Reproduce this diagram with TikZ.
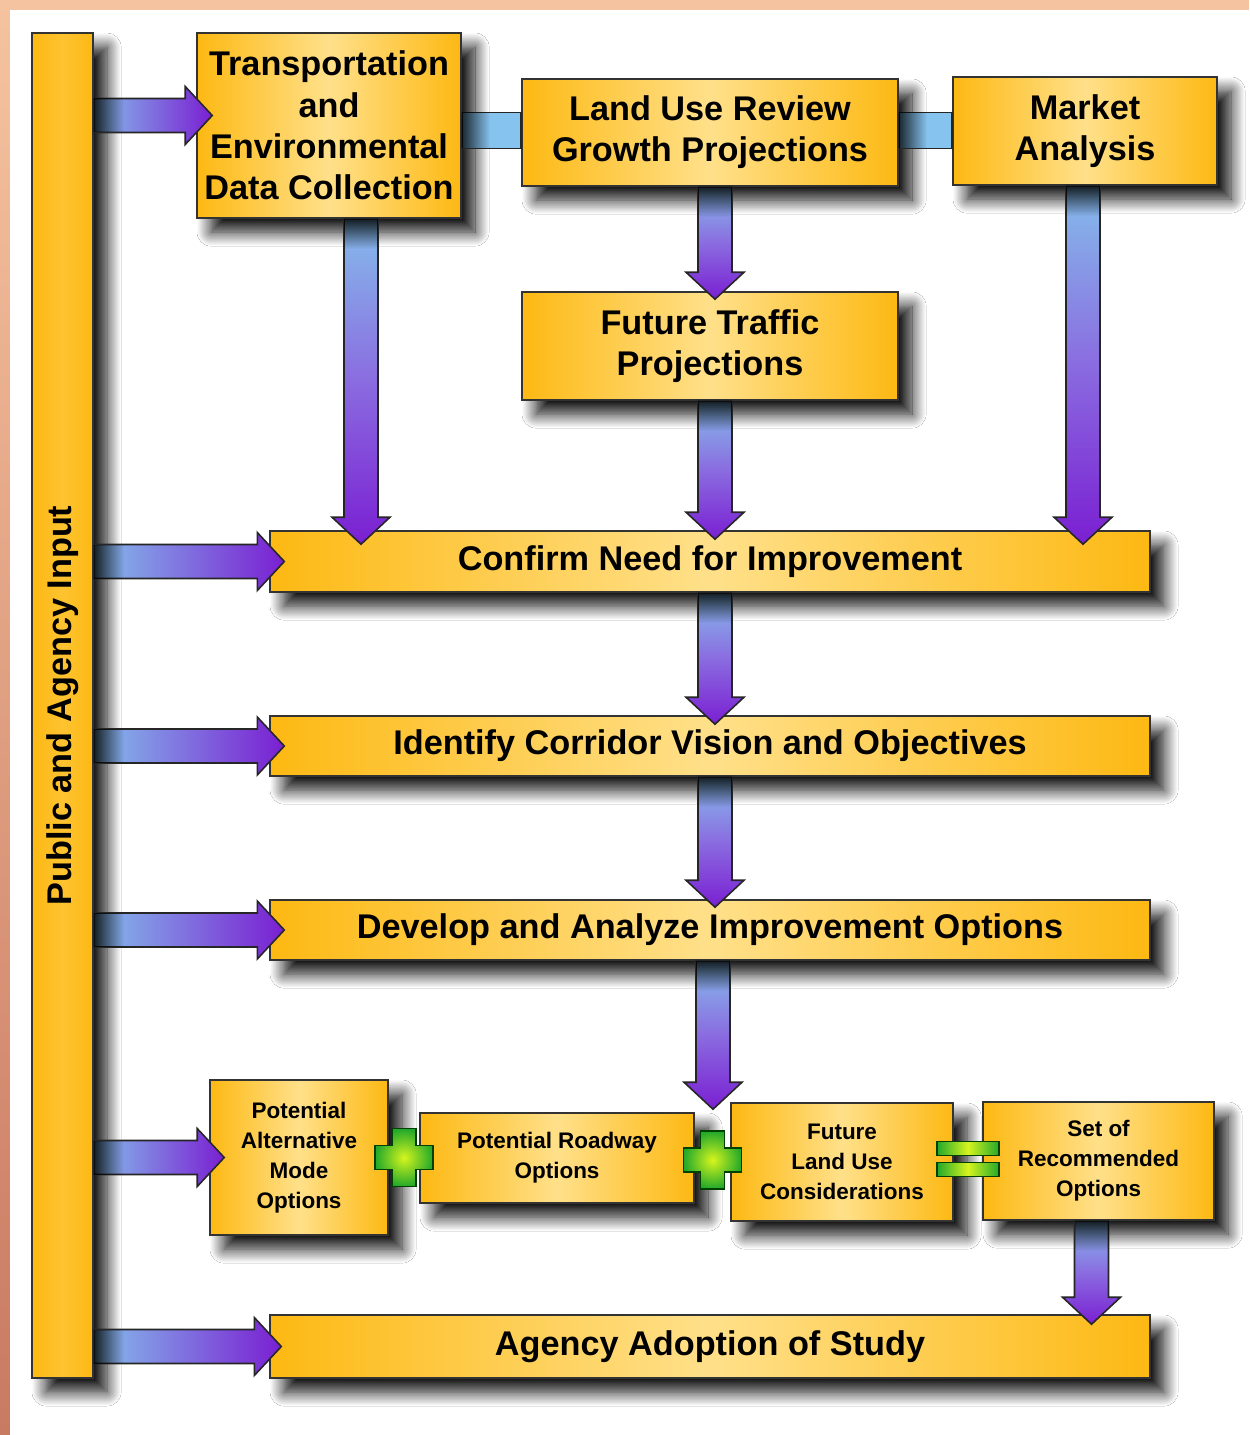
\documentclass[tikz,border=0pt]{standalone}
\usepackage{fontspec}
\setmainfont{Liberation Sans}
\usetikzlibrary{calc,fadings,shadows.blur}

\definecolor{boxorange}{HTML}{FDB913}
\definecolor{boxlight}{HTML}{FFE08A}
\definecolor{arrowblue}{HTML}{85BDEB}
\definecolor{arrowmid}{HTML}{8A6CE0}
\definecolor{arrowpurple}{HTML}{7A1FD2}
\definecolor{connblue}{HTML}{86C3EE}
\definecolor{greenglow}{HTML}{D6F51E}
\definecolor{greenedge}{HTML}{22A82A}
\definecolor{framepeach}{HTML}{F5C3A0}
\definecolor{framered}{HTML}{C97A62}

\tikzfading[name=shadowdown, top color=transparent!0, bottom color=transparent!100]
\tikzfading[name=shadowright, left color=transparent!0, right color=transparent!100]

\tikzset{
  stagebox/.style={draw=black!80, line width=0.9pt, left color=boxorange,
    right color=boxorange, middle color=boxlight, inner sep=0pt, align=center,
    blur shadow={shadow xshift=8pt, shadow yshift=-8pt, shadow blur radius=8pt,
      shadow blur steps=16, shadow opacity=95}},
  bigtext/.style={font=\fontsize{19.5}{23.5}\selectfont\bfseries},
  smalltext/.style={font=\fontsize{12.8}{17}\selectfont\bfseries},
  arrowline/.style={draw=black!85, line width=0.9pt},
  plusfill/.style={inner color=greenglow, outer color=greenedge,
    draw=green!25!black, line width=0.7pt},
  eqfill/.style={left color=greenedge, right color=greenedge, middle color=greenglow,
    draw=green!25!black, line width=0.7pt}
}

% fat arrows: #1 start coordinate, #2 tip coordinate
\newcommand{\fatdown}[2]{%
  \shade[top color=arrowblue, bottom color=arrowpurple, middle color=arrowmid, arrowline]
    ($(#1)+(-17,0)$) -- ($(#2)+(-17,-27)$) -- ($(#2)+(-29,-27)$) -- (#2)
    -- ($(#2)+(29,-27)$) -- ($(#2)+(17,-27)$) -- ($(#1)+(17,0)$) -- cycle;
  \fill[black, path fading=shadowdown, fill opacity=0.85]
    ($(#1)+(-17,0)$) rectangle ($(#1)+(17,30)$);
}
\newcommand{\fatright}[2]{%
  \shade[left color=arrowblue, right color=arrowpurple, arrowline]
    ($(#1)+(0,-17)$) -- ($(#2)+(-27,-17)$) -- ($(#2)+(-27,-29)$) -- (#2)
    -- ($(#2)+(-27,29)$) -- ($(#2)+(-27,17)$) -- ($(#1)+(0,17)$) -- cycle;
  \fill[black, path fading=shadowright, fill opacity=0.85]
    ($(#1)+(0,-17)$) rectangle ($(#1)+(30,17)$);
}
\newcommand{\greenplus}[1]{%
  \begin{scope}[shift={(#1)}]
    \shade[plusfill] (-12,-29) -- (12,-29) -- (12,-12) -- (29,-12) -- (29,12)
      -- (12,12) -- (12,29) -- (-12,29) -- (-12,12) -- (-29,12) -- (-29,-12)
      -- (-12,-12) -- cycle;
  \end{scope}
}

\begin{document}
\begin{tikzpicture}[x=0.02cm, y=-0.02cm]
  \useasboundingbox (0,0) rectangle (1249,1435);
  % frame
  \fill[framepeach] (0,0) rectangle (1249,1435);
  \shade[top color=framepeach, bottom color=framered] (0,0) rectangle (10,1435);
  \fill[white] (10,10) rectangle (1249,1435);

  % boxes
  \node[stagebox, left color=boxorange, right color=boxorange, middle color=boxorange!75!boxlight,
    minimum width=1.22cm, minimum height=26.9cm,
    label={[bigtext, rotate=90]center:Public and Agency Input}] (input) at (62.5,705.5) {};
  \node[stagebox, bigtext, minimum width=5.28cm, minimum height=3.7cm] (trans) at (329,125.5)
    {Transportation\\and\\Environmental\\Data Collection};
  \node[stagebox, bigtext, minimum width=7.52cm, minimum height=2.14cm] (landuse) at (710,132.5)
    {Land Use Review\\Growth Projections};
  \node[stagebox, bigtext, minimum width=5.28cm, minimum height=2.16cm] (market) at (1085,131)
    {Market\\Analysis};
  \node[stagebox, bigtext, minimum width=7.52cm, minimum height=2.16cm] (traffic) at (710,346)
    {Future Traffic\\Projections};
  \node[stagebox, bigtext, minimum width=17.6cm, minimum height=1.22cm] (confirm) at (710,561.5)
    {Confirm Need for Improvement};
  \node[stagebox, bigtext, minimum width=17.6cm, minimum height=1.2cm] (identify) at (710,746)
    {Identify Corridor Vision and Objectives};
  \node[stagebox, bigtext, minimum width=17.6cm, minimum height=1.2cm] (develop) at (710,930)
    {Develop and Analyze Improvement Options};
  \node[stagebox, smalltext, minimum width=3.56cm, minimum height=3.1cm] (altmode) at (299,1157.5)
    {Potential\\Alternative\\Mode\\Options};
  \node[stagebox, smalltext, minimum width=5.48cm, minimum height=1.8cm] (roadway) at (557,1158)
    {Potential Roadway\\Options};
  \node[stagebox, smalltext, minimum width=4.44cm, minimum height=2.36cm] (futureland) at (842,1162)
    {Future\\Land Use\\Considerations};
  \node[stagebox, smalltext, minimum width=4.62cm, minimum height=2.36cm] (recommended) at (1098.5,1161)
    {Set of\\Recommended\\Options};
  \node[stagebox, bigtext, minimum width=17.6cm, minimum height=1.26cm] (adoption) at (710,1346.5)
    {Agency Adoption of Study};

  % links between the top boxes
  \draw[arrowline, fill=connblue] ($(trans.east |- landuse.west)+(0,-20)$) rectangle ($(landuse.west)+(0,16)$);
  \fill[black, path fading=shadowright, fill opacity=0.8]
    ($(trans.east |- landuse.west)+(0,-20)$) rectangle ($(trans.east |- landuse.west)+(28,16)$);
  \draw[arrowline, fill=connblue] ($(landuse.east)+(0,-20)$) rectangle ($(market.west |- landuse.east)+(0,16)$);
  \fill[black, path fading=shadowright, fill opacity=0.8]
    ($(landuse.east)+(0,-20)$) rectangle ($(landuse.east)+(28,16)$);

  % input arrows
  \coordinate (h1t) at ($(trans.west)+(16,-10)$);
  \coordinate (h1s) at (input.east |- h1t);
  \fatright{h1s}{h1t}
  \coordinate (h2t) at ($(confirm.west)+(15,0)$);
  \coordinate (h2s) at (input.east |- h2t);
  \fatright{h2s}{h2t}
  \coordinate (h3t) at ($(identify.west)+(15,0)$);
  \coordinate (h3s) at (input.east |- h3t);
  \fatright{h3s}{h3t}
  \coordinate (h4t) at ($(develop.west)+(15,0)$);
  \coordinate (h4s) at (input.east |- h4t);
  \fatright{h4s}{h4t}
  \coordinate (h5t) at ($(altmode.west)+(15,0)$);
  \coordinate (h5s) at (input.east |- h5t);
  \fatright{h5s}{h5t}
  \coordinate (h6t) at ($(adoption.west)+(12,0)$);
  \coordinate (h6s) at (input.east |- h6t);
  \fatright{h6s}{h6t}

  % flow arrows
  \coordinate (v1s) at ($(trans.south)+(32,0)$);
  \coordinate (v1t) at ($(v1s |- confirm.north)+(0,14)$);
  \fatdown{v1s}{v1t}
  \coordinate (v2s) at ($(landuse.south)+(5,0)$);
  \coordinate (v2t) at ($(v2s |- traffic.north)+(0,8)$);
  \fatdown{v2s}{v2t}
  \coordinate (v3s) at ($(traffic.south)+(5,0)$);
  \coordinate (v3t) at ($(v3s |- confirm.north)+(0,9)$);
  \fatdown{v3s}{v3t}
  \coordinate (v4s) at ($(market.south)+(-2,0)$);
  \coordinate (v4t) at ($(v4s |- confirm.north)+(0,14)$);
  \fatdown{v4s}{v4t}
  \coordinate (v5s) at ($(confirm.south)+(5,0)$);
  \coordinate (v5t) at ($(v5s |- identify.north)+(0,9)$);
  \fatdown{v5s}{v5t}
  \coordinate (v6s) at ($(identify.south)+(5,0)$);
  \coordinate (v6t) at ($(v6s |- develop.north)+(0,8)$);
  \fatdown{v6s}{v6t}
  \coordinate (v7s) at ($(develop.south)+(3,0)$);
  \coordinate (v7t) at ($(v7s |- futureland.north)+(0,7)$);
  \fatdown{v7s}{v7t}
  \coordinate (v8s) at ($(recommended.south)+(-7,0)$);
  \coordinate (v8t) at ($(v8s |- adoption.north)+(0,10)$);
  \fatdown{v8s}{v8t}

  % plus and equals signs
  \coordinate (p1) at ($(altmode.east)!0.5!(roadway.west)$);
  \greenplus{p1}
  \coordinate (p2) at ($(roadway.east)!0.5!(futureland.west)$);
  \greenplus{p2}
  \coordinate (e1) at ($(futureland.east)!0.5!(recommended.west)$);
  \begin{scope}[shift={(e1)}]
    \shade[eqfill] (-31,-20) rectangle (31,-6);
    \shade[eqfill] (-31,1) rectangle (31,15);
  \end{scope}
\end{tikzpicture}
\end{document}
